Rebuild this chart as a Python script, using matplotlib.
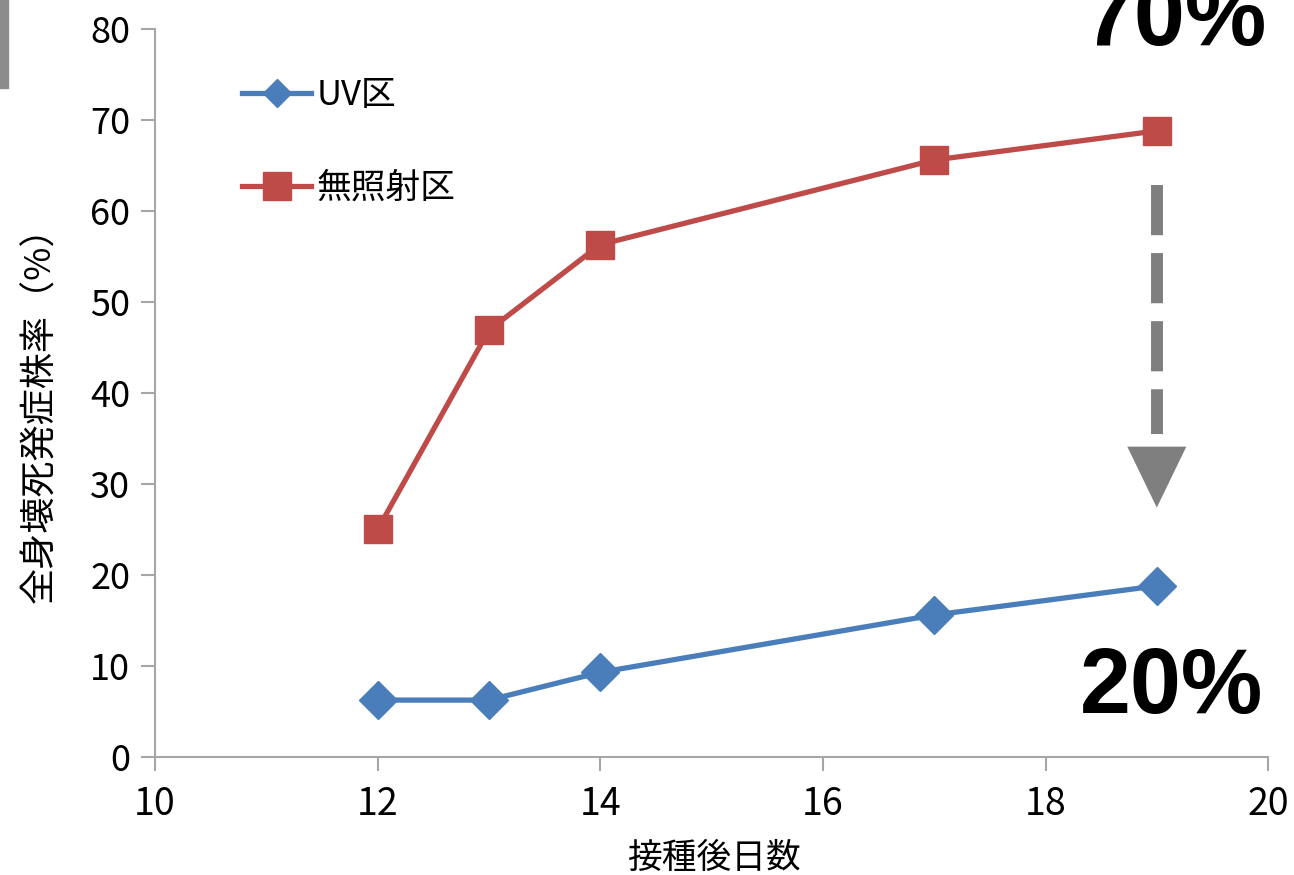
import numpy as np
import matplotlib.pyplot as plt
from matplotlib.lines import Line2D
from matplotlib.patches import Rectangle

plt.rcParams['font.family'] = ['Noto Sans CJK JP', 'DejaVu Sans']

days_uv = [12, 13, 14, 17, 19]
uv = [6.25, 6.25, 9.3, 15.6, 18.8]
days_ctrl = [12, 13, 14, 17, 19]
ctrl = [25.0, 46.9, 56.3, 65.6, 68.8]

blue = '#4a7ebb'
red = '#be4b48'
axis_gray = '#a6a6a6'
arrow_gray = '#7f7f7f'

fig = plt.figure(figsize=(12.94, 8.75), dpi=100)
ax = fig.add_axes([0.1198, 0.1349, 0.8602, 0.832])

ax.plot(days_uv, uv, color=blue, lw=3.8, marker='D', ms=19, label='UV区',
        clip_on=False, zorder=3)
ax.plot(days_ctrl, ctrl, color=red, lw=3.8, marker='s', ms=20, label='無照射区',
        clip_on=False, zorder=3)

ax.set_xlim(10, 20)
ax.set_ylim(0, 80)
ax.set_xticks(np.arange(10, 21, 2))
ax.set_yticks(np.arange(0, 81, 10))

for s in ['top', 'right']:
    ax.spines[s].set_visible(False)
for s in ['left', 'bottom']:
    ax.spines[s].set_color(axis_gray)
    ax.spines[s].set_linewidth(1.5)
ax.tick_params(axis='both', colors=axis_gray, width=1.5, length=10,
               labelcolor='black')
ax.tick_params(axis='x', pad=10, labelsize=27)
ax.tick_params(axis='y', pad=8, labelsize=26)

ax.set_xlabel('接種後日数', fontsize=25)
ax.xaxis.set_label_coords(0.502, -0.115)
ax.set_ylabel('全身壊死発症株率（%）', fontsize=26)
ax.yaxis.set_label_coords(-0.087, 0.482)

# legend with smaller markers like the original
handles = [Line2D([], [], color=blue, lw=3.8, marker='D', ms=14),
           Line2D([], [], color=red, lw=3.8, marker='s', ms=20)]
ax.legend(handles, ['UV区', '無照射区'], loc='upper left',
          bbox_to_anchor=(0.05, 0.975), frameon=False, fontsize=25,
          handlelength=2.0, handletextpad=0.15, labelspacing=1.65)

# dashed arrow from 70% down to 20%
ax.plot([19, 19], [62.9, 35.5], color=arrow_gray, lw=8.6, ls=(0, (4.2, 1.5)),
        solid_capstyle='butt', dash_capstyle='butt', zorder=2)
ax.fill([18.735, 19.265, 19.0], [34.1, 34.1, 27.4], color=arrow_gray, lw=0, zorder=2)

fig.text(0.908, 0.9486, '70%', fontsize=66, fontweight='bold', ha='center',
         va='baseline', family='Liberation Sans')
fig.text(0.905, 0.185, '20%', fontsize=66, fontweight='bold', ha='center',
         va='baseline', family='Liberation Sans')

# gray bar at the left edge of the screenshot
fig.patches.append(Rectangle((0, 1 - 88 / 875), 8 / 1294, 88 / 875,
                             transform=fig.transFigure, color='#8c8c8c'))

fig.savefig('out.png', dpi=100)
